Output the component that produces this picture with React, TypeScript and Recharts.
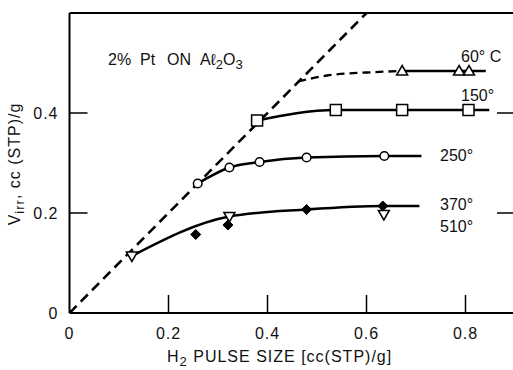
import React from 'react';
import { ComposedChart, Line, Scatter, XAxis, YAxis } from 'recharts';

// H2 pulse size (x, cc(STP)/g) against irreversible uptake (y, cc(STP)/g)
const diagonalLine = [{ x: 0, y: 0 }, { x: 0.6, y: 0.6 }];

// 60 C
const points60 = [{ x: 0.672, y: 0.484 }, { x: 0.787, y: 0.484 }, { x: 0.807, y: 0.484 }];
const dashed60 = [{ x: 0.462, y: 0.463 }, { x: 0.52, y: 0.475 }, { x: 0.6, y: 0.481 }, { x: 0.672, y: 0.484 }];
const curve60 = [{ x: 0.672, y: 0.484 }, { x: 0.841, y: 0.484 }];

// 150 C
const points150 = [{ x: 0.379, y: 0.385 }, { x: 0.538, y: 0.406 }, { x: 0.672, y: 0.406 }, { x: 0.806, y: 0.406 }];
const curve150 = [{ x: 0.379, y: 0.385 }, { x: 0.538, y: 0.406 }, { x: 0.672, y: 0.406 }, { x: 0.806, y: 0.406 }, { x: 0.848, y: 0.406 }];

// 250 C
const points250 = [{ x: 0.259, y: 0.259 }, { x: 0.323, y: 0.291 }, { x: 0.384, y: 0.302 }, { x: 0.479, y: 0.311 }, { x: 0.636, y: 0.314 }];
const curve250 = [{ x: 0.259, y: 0.259 }, { x: 0.323, y: 0.291 }, { x: 0.384, y: 0.302 }, { x: 0.479, y: 0.311 }, { x: 0.636, y: 0.314 }, { x: 0.711, y: 0.314 }];

// 370 C and 510 C share one curve
const points370 = [{ x: 0.255, y: 0.157 }, { x: 0.32, y: 0.176 }, { x: 0.479, y: 0.207 }, { x: 0.633, y: 0.214 }];
const points510 = [{ x: 0.126, y: 0.114 }, { x: 0.323, y: 0.193 }, { x: 0.635, y: 0.197 }];
const curve370 = [{ x: 0.126, y: 0.114 }, { x: 0.323, y: 0.193 }, { x: 0.479, y: 0.207 }, { x: 0.633, y: 0.214 }, { x: 0.707, y: 0.214 }];

const xTicks = [0, 0.2, 0.4, 0.6, 0.8];
const yTicks = [0, 0.2, 0.4];
const topTicks = [0.2, 0.4, 0.6, 0.8];
const rightTicks = [0.2, 0.4];

const font = '"Liberation Sans", Arial, sans-serif';
const fmt = (v: number) => (v === 0 ? '0' : String(v));

const BottomTick = ({ x, y, payload }: any) => (
  <g>
    {payload.value > 0 && <line x1={x} x2={x} y1={y} y2={y - 18} stroke="#000" strokeWidth={1.5} />}
    <text x={x} y={y + 26} textAnchor="middle" fontSize={16} letterSpacing={1} fontFamily={font} fill="#111">
      {fmt(payload.value)}
    </text>
  </g>
);

const LeftTick = ({ x, y, payload }: any) => (
  <g>
    {payload.value > 0 && <line x1={x} x2={x + 18} y1={y} y2={y} stroke="#000" strokeWidth={1.5} />}
    <text x={x - 11} y={y + 6} textAnchor="end" fontSize={16} letterSpacing={1} fontFamily={font} fill="#111">
      {fmt(payload.value)}
    </text>
  </g>
);

const TopTick = ({ x, y }: any) => <line x1={x} x2={x} y1={y} y2={y + 16} stroke="#000" strokeWidth={1.5} />;
const RightTick = ({ x, y }: any) => <line x1={x} x2={x - 18} y1={y} y2={y} stroke="#000" strokeWidth={1.5} />;

const Triangle = ({ cx, cy }: any) => (
  <path d={`M${cx},${cy - 5.5} L${cx + 5.5},${cy + 4} L${cx - 5.5},${cy + 4} Z`} fill="#fff" stroke="#000" strokeWidth={1.5} />
);
const DownTriangle = ({ cx, cy }: any) => (
  <path d={`M${cx},${cy + 5.5} L${cx + 5.5},${cy - 4} L${cx - 5.5},${cy - 4} Z`} fill="#fff" stroke="#000" strokeWidth={1.5} />
);
const Square = ({ cx, cy }: any) => (
  <rect x={cx - 5.5} y={cy - 5.5} width={11} height={11} fill="#fff" stroke="#000" strokeWidth={1.5} />
);
const Circle = ({ cx, cy }: any) => <circle cx={cx} cy={cy} r={4.3} fill="#fff" stroke="#000" strokeWidth={1.5} />;
const Diamond = ({ cx, cy }: any) => (
  <path d={`M${cx},${cy - 5} L${cx + 5},${cy} L${cx},${cy + 5} L${cx - 5},${cy} Z`} fill="#000" stroke="#000" strokeWidth={1} />
);

const curveProps = {
  type: 'monotone' as const,
  dataKey: 'y',
  stroke: '#000',
  strokeWidth: 2.6,
  dot: false,
  activeDot: false,
  isAnimationActive: false,
  legendType: 'none' as const,
};

export default function App() {
  return (
    <div style={{ position: 'absolute', left: 0, top: 0, width: 513, height: 370, overflow: 'hidden', background: '#fff' }}>
      <ComposedChart width={531} height={370} margin={{ top: 0, right: 0, bottom: 0, left: 0 }}>
        {/* bottom and top axes */}
        <XAxis
          xAxisId={0}
          dataKey="x"
          type="number"
          domain={[0, 0.9]}
          ticks={xTicks}
          interval={0}
          height={57}
          tickSize={0}
          tickMargin={0}
          tickLine={false}
          axisLine={{ stroke: '#000', strokeWidth: 2 }}
          tick={(p: any) => <BottomTick {...p} />}
          allowDataOverflow
        />
        <XAxis
          xAxisId="top"
          orientation="top"
          type="number"
          domain={[0, 0.9]}
          ticks={topTicks}
          interval={0}
          height={13}
          tickSize={0}
          tickMargin={0}
          tickLine={false}
          axisLine={{ stroke: '#000', strokeWidth: 2 }}
          tick={(p: any) => <TopTick {...p} />}
          allowDataOverflow
        />
        {/* left and right axes */}
        <YAxis
          yAxisId={0}
          dataKey="y"
          type="number"
          domain={[0, 0.6]}
          ticks={yTicks}
          interval={0}
          width={69.5}
          tickSize={0}
          tickMargin={0}
          tickLine={false}
          axisLine={{ stroke: '#000', strokeWidth: 2 }}
          tick={(p: any) => <LeftTick {...p} />}
          allowDataOverflow
        />
        <YAxis
          yAxisId="right"
          orientation="right"
          type="number"
          domain={[0, 0.6]}
          ticks={rightTicks}
          interval={0}
          width={16}
          tickSize={0}
          tickMargin={0}
          tickLine={false}
          axisLine={{ stroke: '#000', strokeWidth: 2 }}
          tick={(p: any) => <RightTick {...p} />}
          allowDataOverflow
        />

        {/* dashed line y = x */}
        <Line {...curveProps} type="linear" data={diagonalLine} strokeDasharray="10 6" />

        {/* fitted curves */}
        <Line {...curveProps} data={dashed60} strokeDasharray="8 5" strokeWidth={2.3} />
        <Line {...curveProps} data={curve60} />
        <Line {...curveProps} data={curve150} />
        <Line {...curveProps} data={curve250} />
        <Line {...curveProps} data={curve370} />

        {/* measured points */}
        <Scatter data={points60} shape={(p: any) => <Triangle {...p} />} isAnimationActive={false} legendType="none" />
        <Scatter data={points150} shape={(p: any) => <Square {...p} />} isAnimationActive={false} legendType="none" />
        <Scatter data={points250} shape={(p: any) => <Circle {...p} />} isAnimationActive={false} legendType="none" />
        <Scatter data={points370} shape={(p: any) => <Diamond {...p} />} isAnimationActive={false} legendType="none" />
        <Scatter data={points510} shape={(p: any) => <DownTriangle {...p} />} isAnimationActive={false} legendType="none" />
      </ComposedChart>

      {/* annotations */}
      <svg width={513} height={370} style={{ position: 'absolute', left: 0, top: 0, pointerEvents: 'none' }}>
        <g fontFamily={font} fontSize={16} fill="#111">
          <text y={65}>
            <tspan x={108}>2%</tspan>
            <tspan x={140}>Pt</tspan>
            <tspan x={167}>ON</tspan>
            <tspan x={200}>Aℓ</tspan>
            <tspan dy={4} fontSize={13}>2</tspan>
            <tspan dy={-4}>O</tspan>
            <tspan dy={4} fontSize={13}>3</tspan>
          </text>
          <text x={461} y={62}>60° C</text>
          <text x={461} y={101}>150°</text>
          <text x={440} y={161}>250°</text>
          <text x={440} y={210}>370°</text>
          <text x={440} y={232}>510°</text>

          <text x={167} y={362} letterSpacing={1}>
            H<tspan dy={4} fontSize={13}>2</tspan>
            <tspan dy={-4}> PULSE SIZE [cc(STP)/g]</tspan>
          </text>
          <text transform="translate(20,164) rotate(-90)" textAnchor="middle" letterSpacing={1}>
            V<tspan dy={4} fontSize={13}>irr</tspan>
            <tspan dy={-4}>, cc (STP)/g</tspan>
          </text>
        </g>
      </svg>
    </div>
  );
}
